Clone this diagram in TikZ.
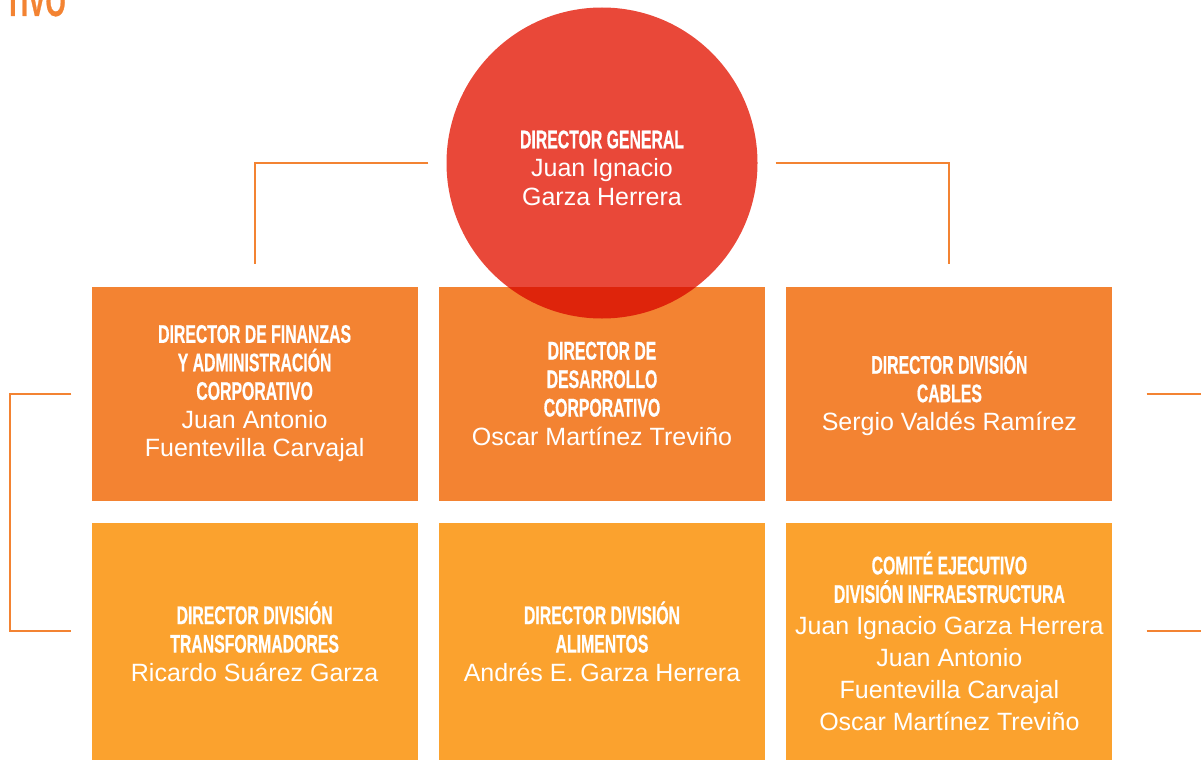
\documentclass[tikz,border=0pt]{standalone}
\usepackage{fontspec}
\setmainfont{Liberation Sans}
\newfontfamily\headfont[FakeStretch=0.62,FakeBold=0.6]{Liberation Sans Bold}
\usetikzlibrary{positioning}

\definecolor{bossred}{HTML}{E94839}
\definecolor{deeporange}{HTML}{F38332}
\definecolor{lightorange}{HTML}{FBA22E}
\newcommand{\hd}[1]{{\headfont\fontsize{25.5}{28.5}\selectfont #1}}

\begin{document}
\begin{tikzpicture}[x=1pt,y=1pt,node distance=21pt,
    top box/.style={rectangle,fill=deeporange,minimum width=326pt,minimum height=214pt,
                    inner sep=0pt,align=center,text=white,font=\fontsize{25}{28.5}\selectfont},
    low box/.style={top box,fill=lightorange,minimum height=237pt},
    boss node/.style={circle,fill=bossred,minimum size=311pt,inner sep=0pt},
    link/.style={draw=deeporange,line width=2pt}]

    \useasboundingbox (0,0) rectangle (1201,-760);

    \node[anchor=base east,text=deeporange,inner sep=0pt,
          font=\headfont\fontsize{42}{42}\selectfont] (title) at (66,-16) {TIVO};

    \node[top box] (dev) at (602,-393.5) {\hd{DIRECTOR DE}\\ \hd{DESARROLLO}\\ \hd{CORPORATIVO}\\ Oscar Martínez Treviño};
    \node[top box] (fin) [left=of dev] {\hd{DIRECTOR DE FINANZAS}\\ \hd{Y ADMINISTRACIÓN}\\ \hd{CORPORATIVO}\\ Juan Antonio\\ Fuentevilla Carvajal};
    \node[top box] (cab) [right=of dev] {\hd{DIRECTOR DIVISIÓN}\\ \hd{CABLES}\\ Sergio Valdés Ramírez};
    \node[low box] (ali) [below=22pt of dev] {\hd{DIRECTOR DIVISIÓN}\\ \hd{ALIMENTOS}\\ Andrés E. Garza Herrera};
    \node[low box] (tra) [below=22pt of fin] {\hd{DIRECTOR DIVISIÓN}\\ \hd{TRANSFORMADORES}\\ Ricardo Suárez Garza};
    \node[low box] (inf) [below=22pt of cab] {\hd{COMITÉ EJECUTIVO}\\ \hd{DIVISIÓN INFRAESTRUCTURA}\\[3.5pt] Juan Ignacio Garza Herrera\\[3.5pt] Juan Antonio\\[3.5pt] Fuentevilla Carvajal\\[3.5pt] Oscar Martínez Treviño};

    % circle over the boxes, darker where they meet
    \begin{scope}[blend mode=multiply]
        \node[boss node] (dg) at (602,-163) {};
    \end{scope}
    \node[align=center,text=white,font=\fontsize{25}{28.5}\selectfont] (dgname) at (602,-168)
        {\hd{DIRECTOR GENERAL}\\ Juan Ignacio\\ Garza Herrera};

    \draw[link] ([xshift=-18pt]dg.west) -| ([yshift=22pt]fin.north);
    \draw[link] ([xshift=18pt]dg.east) -| ([yshift=22pt]cab.north);
    \draw[link] ([xshift=-20pt]fin.west) -- ++(-61,0) |- ([xshift=-20pt,yshift=10pt]tra.west);
    \draw[link] ([xshift=34pt]cab.east) -- ++(60,0);
    \draw[link] ([xshift=34pt,yshift=10pt]inf.east) -- ++(60,0);
\end{tikzpicture}
\end{document}
